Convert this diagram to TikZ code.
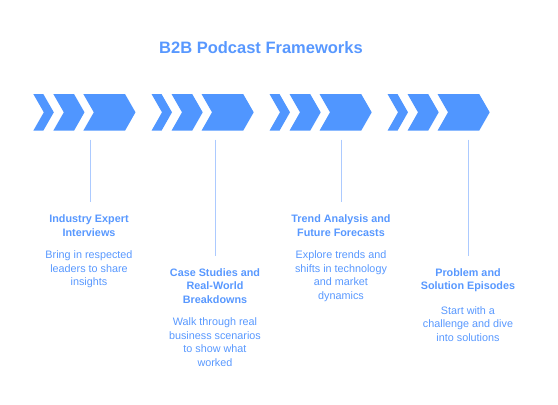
\documentclass[tikz,border=0pt]{standalone}
\usepackage{fontspec}
\setmainfont{Liberation Sans}
\usetikzlibrary{positioning}

\definecolor{chevblue}{RGB}{80,150,255}
\definecolor{textblue}{RGB}{88,152,255}
\definecolor{lineblue}{RGB}{172,202,255}

\begin{document}
\begin{tikzpicture}[x=1pt, y=-1pt,
    every node/.style = {align=center, inner sep=0pt, text=textblue},
    heading/.style={font=\fontsize{16.5}{20}\selectfont\bfseries},
    itemtitle/.style={font=\fontsize{10.8}{13.6}\selectfont\bfseries, anchor=north},
    itemtext/.style={font=\fontsize{10.8}{13.6}\selectfont, below=14pt of #1},
    chevron/.style={fill=chevblue, draw=none},
    stem/.style={draw=lineblue, line width=1pt},
    ]
    \useasboundingbox (0,0) rectangle (558,405);

    \node [heading] (title) at (261,47.5) {B2B Podcast Frameworks};

    % chevron groups: left edge of each group
    \foreach \gx in {33.3,151.5,269.5,387.5}{
      \foreach \cx/\cw in {0/10,20/20.7,50/41.7}{
        \fill [chevron] (\gx+\cx,94) -- ++(\cw,0) -- ++(10.5,18.3)
          -- ++(-10.5,18.4) -- ++(-\cw,0) -- ++(10.5,-18.4) -- cycle;
      }
    }

    % items
    \node [itemtitle] (expert) at (89,214.5) {Industry Expert\\Interviews};
    \node [itemtext=expert] (experttxt) {Bring in respected\\leaders to share\\insights};

    \node [itemtitle] (cases) at (215,268) {Case Studies and\\Real-World\\Breakdowns};
    \node [itemtext=cases] (casestxt) {Walk through real\\business scenarios\\to show what\\worked};

    \node [itemtitle] (trend) at (341,214.5) {Trend Analysis and\\Future Forecasts};
    \node [itemtext=trend] (trendtxt) {Explore trends and\\shifts in technology\\and market\\dynamics};

    \node [itemtitle] (problem) at (468,268) {Problem and\\Solution Episodes};
    \node [itemtext=problem] (problemtxt) {Start with a\\challenge and dive\\into solutions};

    % stems
    \coordinate (s1) at (90,139.5);
    \coordinate (s2) at (215.7,139.5);
    \coordinate (s3) at (341.7,139.5);
    \coordinate (s4) at (468,139.5);
    \draw [stem, shorten >=12.5pt] (s1) -- (s1 |- expert.north);
    \draw [stem, shorten >=12.5pt] (s2) -- (s2 |- cases.north);
    \draw [stem, shorten >=12.5pt] (s3) -- (s3 |- trend.north);
    \draw [stem, shorten >=12.5pt] (s4) -- (s4 |- problem.north);

\end{tikzpicture}
\end{document}
